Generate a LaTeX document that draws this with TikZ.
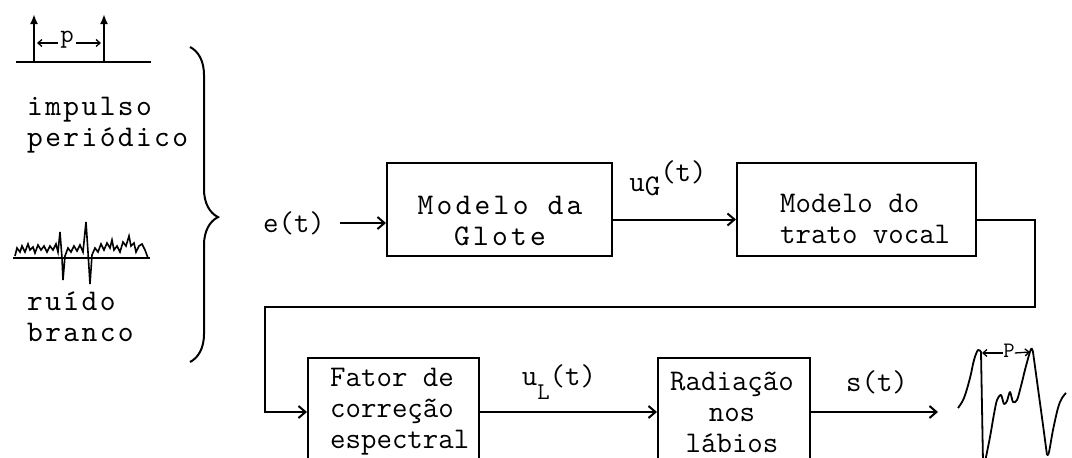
\documentclass[tikz,border=0pt]{standalone}
\usepackage{fontspec}
\usetikzlibrary{arrows.meta,decorations.pathreplacing}
\newfontfamily\typewide{lmmono10-regular}[Extension=.otf,LetterSpace=11]
\newfontfamily\typelbl{lmmono10-regular}[Extension=.otf,LetterSpace=8]
\newcommand\typeset{\ttfamily\fontsize{30}{31}\selectfont}

\begin{document}
\begin{tikzpicture}[x=1pt,y=-1pt,>={Straight Barb[length=7pt,width=12pt]},
   every node/.style={font=\typeset,inner sep=0pt},
   blockbox/.style={draw,line width=2pt},
   sig/.style={line width=2pt},
   small/.style={line width=1.3pt,-{Straight Barb[length=4pt,width=7pt]}}]
   \useasboundingbox (0,0) rectangle (1072,458);
   \clip (0,0) rectangle (1072,458);
   %impulse train
   \draw[sig] (16,62) -- (151,62);
   \draw[line width=2.5pt,-{Latex[length=10pt,width=8pt]}] (34,62) -- (34,14);
   \draw[line width=2.5pt,-{Latex[length=10pt,width=8pt]}] (104,62) -- (104,14);
   \node[font=\ttfamily\fontsize{26}{28}\selectfont] (pimp) at (67,40) {p};
   \coordinate (pimpl) at (37,43);
   \coordinate (pimpr) at (101,43);
   \draw[small] (pimp.west) ++(-2,3) -- (pimpl);
   \draw[small] (pimp.east) ++(2,3) -- (pimpr);
   \node[font=\typelbl\fontsize{30}{31}\selectfont,align=left,anchor=west] (imptxt) at (27,125) {impulso\\periódico};
   %noise
   \draw[sig] (13,258) -- (150,258);
   \draw[line width=1.6pt] plot coordinates {(15,256) (17,248) (20,252) (22,246) (25,252) (28,244) (30,250) (33,247) (35,253)
      (38,245) (41,250) (44,246) (47,252) (50,246) (53,250) (56,244) (58,252) (60,232) (62,258) (63,280) (65,256)
      (68,248) (71,252) (74,246) (77,251) (80,245) (83,252) (86,222) (88,252) (90,284) (92,255) (95,248) (98,252)
      (101,244) (104,250) (107,243) (110,248) (112,240) (114,250) (117,246) (120,252) (123,242) (126,246) (129,236)
      (131,246) (134,243) (136,252) (139,246) (142,244) (145,250) (148,258)};
   \node[font=\typelbl\fontsize{30}{31}\selectfont,align=left,anchor=west] (ruitxt) at (27,317) {ruído\\branco};
   %brace
   \draw[sig,decorate,decoration={brace,amplitude=28pt,aspect=0.54}] (190,47) -- (190,362);
   %blocks
   \node[blockbox,minimum width=225,minimum height=93] (glote) at (499.5,209.5) {};
   \node[font=\typewide\fontsize{30}{31}\selectfont,align=center] (glotetxt) at (500,221) {Modelo da\\Glote};
   \node[blockbox,minimum width=239,minimum height=93] (trato) at (856.5,209.5) {};
   \node[align=left,anchor=west] (tratotxt) at (780,219) {Modelo do\\trato vocal};
   \node[blockbox,minimum width=171,minimum height=108] (fator) at (393.5,412) {};
   \node[align=left,anchor=west] (fatortxt) at (330,412) {Fator de\\correção\\espectral};
   \node[blockbox,minimum width=152,minimum height=108] (radia) at (734,412) {};
   \node[align=center] (radiatxt) at (732,412) {Radiação\\nos\\lábios};
   %signals
   \node (etxt) at (294,223) {e(t)};
   \draw[->,sig] ([xshift=15pt]etxt.east) -- (etxt -| glote.west);
   \draw[->,sig] ([yshift=-10pt]glote.east) -- ([yshift=-10pt]trato.west);
   \node (ug) at (668,178) {u\raisebox{-4pt}{G}\raisebox{10pt}{(t)}};
   \coordinate (c1) at (1035,307);
   \coordinate (c2) at (265,307);
   \draw[->,sig] ([yshift=-10pt]trato.east) -| (c1) -- (c2) |- (fator.west);
   \draw[->,sig] (fator.east) -- (radia.west);
   \node (ul) at (559,382) {u\raisebox{-14pt}{\fontsize{24}{24}\selectfont L}(t)};
   \coordinate (sout) at (938,412);
   \draw[->,sig] (radia.east) -- (sout);
   \node (stxt) at (877,382) {s(t)};
   %speech wave
   \draw[line width=1.8pt,line join=round] plot[smooth,tension=0.6] coordinates {(958,408) (964,398) (970,378) (974,360) (978,350) (981,352)}
      -- (983,462);
   \draw[line width=1.8pt,line join=round] plot[smooth,tension=0.5] coordinates {(985,462) (990,437) (994,414) (997,400) (1001,395)
      (1004,404) (1007,401) (1010,392) (1013,402) (1017,400) (1021,386) (1026,366) (1031,349) (1033,352)}
      -- (1043,425) -- (1047,455);
   \draw[line width=1.8pt,line join=round] plot[smooth,tension=0.6] coordinates {(1047,455) (1049,452) (1053,430) (1058,408) (1062,398) (1066,393)};
   \node[font=\ttfamily\fontsize{22}{24}\selectfont] (pwave) at (1009,351) {P};
   \coordinate (pwl) at (982,353);
   \coordinate (pwr) at (1030,352);
   \draw[small] ([yshift=-2pt]pwave.west) -- (pwl);
   \draw[small] ([yshift=-2pt]pwave.east) -- (pwr);
\end{tikzpicture}
\end{document}
